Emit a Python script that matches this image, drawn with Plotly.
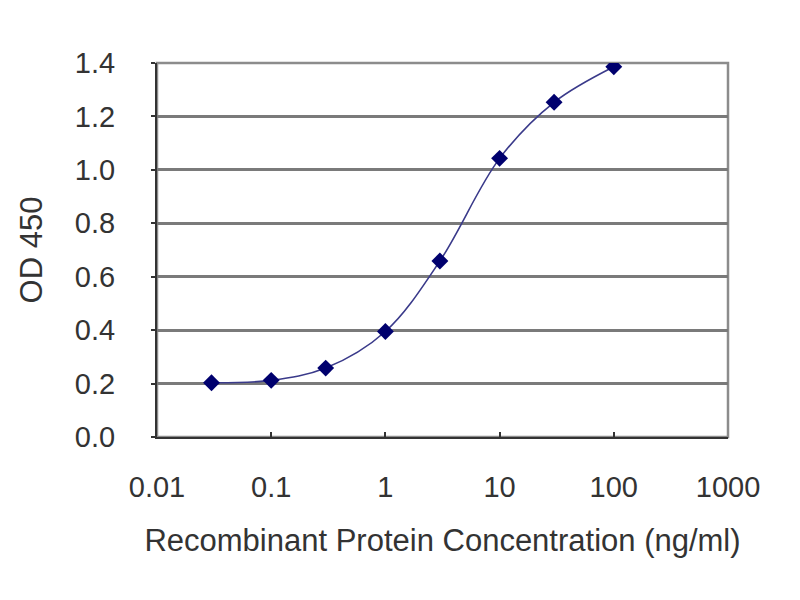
import plotly.graph_objects as go

# recombinant protein concentration (ng/ml) and measured OD 450
concentration = [0.03, 0.1, 0.3, 1, 3, 10, 30, 100]
od450 = [0.203, 0.212, 0.258, 0.395, 0.659, 1.043, 1.253, 1.386]

x_ticks = [0.01, 0.1, 1, 10, 100, 1000]
x_labels = ['0.01', '0.1', '1', '10', '100', '1000']
y_ticks = [0.0, 0.2, 0.4, 0.6, 0.8, 1.0, 1.2, 1.4]

fig = go.Figure()
fig.add_trace(go.Scatter(x=concentration, y=od450, mode='lines+markers',
                         line=dict(color='#3a3a8a', width=1.6, shape='spline', smoothing=1),
                         marker=dict(symbol='diamond', size=13, color='#00006e'),
                         showlegend=False))

# gray frame round the plot area (top and right show through)
fig.add_shape(type='rect', xref='x domain', yref='y domain', x0=0, x1=1, y0=0, y1=1,
              line=dict(color='#8c8c8c', width=2.5), layer='below')

# page body adds 8px, so margins are shifted back by that much
fig.update_layout(
    width=800, height=600,
    margin=dict(l=149, r=80, t=55, b=171),
    paper_bgcolor='white', plot_bgcolor='white',
    font=dict(family='Liberation Sans, Arial, sans-serif', color='#333333'),
    xaxis=dict(type='log', range=[-2, 3], tickvals=x_ticks, ticktext=x_labels,
               showgrid=False, showline=True, linecolor='#333333', linewidth=2,
               ticks='inside', ticklen=5, tickwidth=2, tickcolor='#333333',
               ticklabelstandoff=23, tickfont=dict(size=29),
               title=dict(text='Recombinant Protein Concentration (ng/ml)',
                          font=dict(size=31), standoff=28),
               zeroline=False),
    yaxis=dict(range=[0, 1.4], tickvals=y_ticks, tickformat='.1f',
               showgrid=True, gridcolor='#7a7a7a', gridwidth=2.5,
               showline=True, linecolor='#333333', linewidth=2,
               ticks='outside', ticklen=4, tickwidth=2, tickcolor='#333333',
               ticklabelstandoff=30, tickfont=dict(size=29),
               title=dict(text='OD 450', font=dict(size=31), standoff=23),
               zeroline=False),
)

fig.write_html("out.html")
